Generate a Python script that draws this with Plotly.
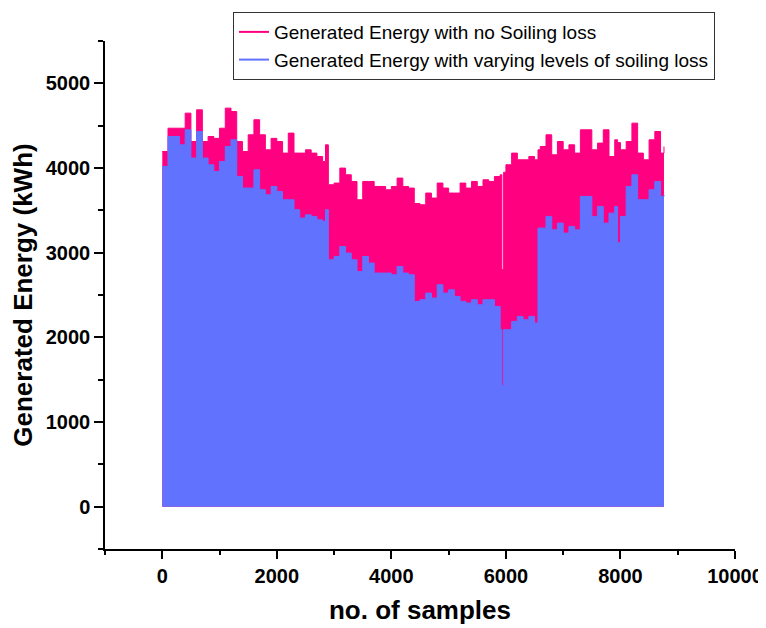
import plotly.graph_objects as go

samples = [0, 100, 200, 300, 400, 500, 600, 700, 800, 900, 1000, 1100, 1200, 1300, 1400,
           1500, 1600, 1700, 1800, 1900, 2000, 2100, 2200, 2300, 2400, 2500, 2600, 2700,
           2800, 2850, 2900, 3000, 3100, 3200, 3300, 3400, 3500, 3600, 3700, 3800, 3900,
           4000, 4100, 4200, 4300, 4400, 4500, 4600, 4700, 4800, 4900, 5000, 5100, 5200,
           5300, 5400, 5500, 5600, 5700, 5800, 5900, 5930, 5960, 6000, 6100, 6200, 6300,
           6400, 6500, 6560, 6600, 6700, 6800, 6900, 7000, 7100, 7200, 7300, 7400, 7500,
           7600, 7700, 7800, 7900, 7950, 8000, 8100, 8200, 8300, 8400, 8500, 8600, 8700, 8760]

energy_no_soiling = [4195, 4470, 4470, 4470, 4648, 4313, 4687, 4313, 4372, 4350, 4470, 4707,
                     4667, 4313, 4195, 4392, 4570, 4392, 4215, 4350, 4313, 4176, 4412, 4176,
                     4176, 4215, 4176, 4136, 4077, 4274, 3802, 3822, 3999, 3920, 3841, 3625,
                     3841, 3841, 3782, 3782, 3743, 3782, 3881, 3782, 3763, 3580, 3566, 3704,
                     3645, 3822, 3763, 3704, 3704, 3822, 3763, 3841, 3782, 3861, 3841, 3900,
                     3920, 2800, 3950, 4038, 4176, 4097, 4097, 4136, 4097, 4215, 4254, 4392,
                     4156, 4313, 4215, 4274, 4176, 4451, 4451, 4215, 4294, 4451, 4136, 4333,
                     4300, 4215, 4313, 4530, 4176, 4097, 4333, 4431, 4176, 4254]

energy_soiling = [4018, 4372, 4372, 4274, 4451, 4117, 4431, 4117, 4038, 3959, 4077, 4254,
                  4333, 3900, 3763, 3763, 3979, 3743, 3684, 3782, 3723, 3625, 3625, 3507,
                  3408, 3447, 3428, 3388, 3369, 3507, 2916, 2955, 3073, 2995, 2916, 2778,
                  2955, 2877, 2759, 2759, 2759, 2739, 2837, 2759, 2739, 2424, 2444, 2523,
                  2464, 2621, 2523, 2562, 2483, 2424, 2405, 2444, 2385, 2444, 2444, 2365,
                  2090, 1432, 2090, 2090, 2188, 2247, 2208, 2247, 2169, 3290, 3290, 3428,
                  3270, 3349, 3231, 3310, 3270, 3664, 3664, 3428, 3546, 3349, 3467, 3546,
                  3117, 3428, 3782, 3920, 3625, 3625, 3743, 3841, 3664, 3684]

series_names = ["Generated Energy with no Soiling loss",
                "Generated Energy with varying levels of soiling loss"]
PINK = "#FF0080"
BLUE = "#6172FF"

fig = go.Figure()
fig.add_trace(go.Scatter(x=samples, y=energy_no_soiling, mode="lines",
                         line=dict(color=PINK, width=1, shape="hv"),
                         fill="tozeroy", fillcolor=PINK, showlegend=False, hoverinfo="skip"))
fig.add_trace(go.Scatter(x=samples, y=energy_soiling, mode="lines",
                         line=dict(color=BLUE, width=1, shape="hv"),
                         fill="tozeroy", fillcolor=BLUE, showlegend=False, hoverinfo="skip"))
# legend entries (line symbols)
fig.add_trace(go.Scatter(x=[None], y=[None], mode="lines", name=series_names[0],
                         line=dict(color=PINK, width=2)))
fig.add_trace(go.Scatter(x=[None], y=[None], mode="lines", name=series_names[1],
                         line=dict(color=BLUE, width=2)))

axis_font = dict(family="Liberation Sans, Arial, sans-serif", size=20, color="black", weight="bold")
title_font = dict(family="Liberation Sans, Arial, sans-serif", size=26, color="black", weight="bold")

fig.update_layout(
    width=766, height=628,
    margin=dict(l=97, r=39, t=33, b=87, autoexpand=False),
    paper_bgcolor="white", plot_bgcolor="white",
    font=dict(family="Liberation Sans, Arial, sans-serif", color="black"),
    legend=dict(x=0.2032, y=1.057, xanchor="left", yanchor="top",
                bordercolor="#333333", borderwidth=1, bgcolor="white",
                font=dict(size=19, color="black"), tracegroupgap=0),
    xaxis=dict(range=[-1000, 10000], tick0=0, dtick=2000, showgrid=False, zeroline=False,
               showline=True, linecolor="black", linewidth=1.5, automargin=False,
               ticks="outside", ticklen=8, tickwidth=1.5, tickcolor="black",
               tickformat="d", exponentformat="none",
               minor=dict(dtick=1000, tick0=0, ticks="outside", ticklen=4, tickwidth=1.5,
                          tickcolor="black", showgrid=False),
               tickfont=axis_font,
               title=dict(text="no. of samples", font=title_font, standoff=15)),
    yaxis=dict(range=[-500, 5500], tick0=0, dtick=1000, showgrid=False, zeroline=False,
               showline=True, linecolor="black", linewidth=1.5, automargin=False,
               ticks="outside", ticklen=9, tickwidth=1.5, tickcolor="black",
               tickformat="d",
               minor=dict(dtick=500, tick0=0, ticks="outside", ticklen=5, tickwidth=1.5,
                          tickcolor="black", showgrid=False),
               tickfont=axis_font,
               title=dict(text="Generated Energy (kWh)", font=title_font, standoff=9)),
)

fig.write_html("out.html")
